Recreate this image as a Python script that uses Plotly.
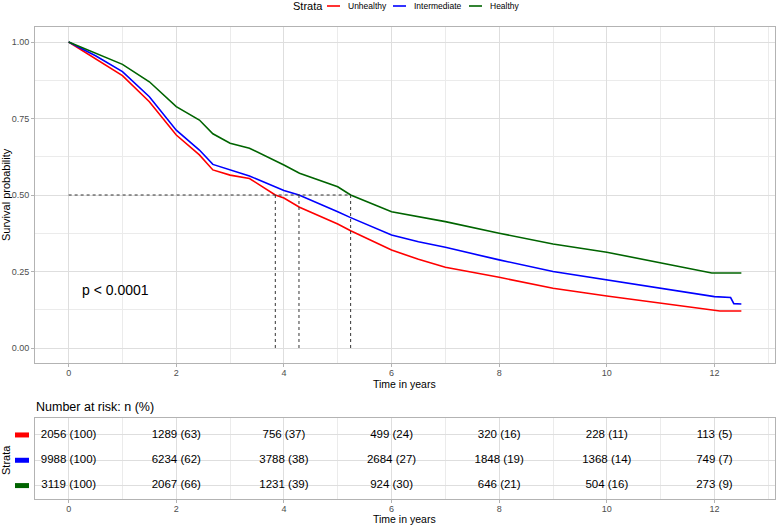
import plotly.graph_objects as go

# ---------------- data ----------------
strata = ["Unhealthy", "Intermediate", "Healthy"]
colors = ["#FF0000", "#0000FF", "#006400"]

unhealthy_t = [0, 0.5, 1, 1.5, 2, 2.43, 2.68, 3, 3.36, 3.84, 4, 4.29, 5, 5.24, 6, 6.5, 7, 8, 9, 10, 11, 12, 12.1, 12.5]
unhealthy_s = [1, 0.944, 0.89, 0.805, 0.696, 0.631, 0.582, 0.565, 0.554, 0.5, 0.49, 0.46, 0.405, 0.383, 0.32, 0.29, 0.264, 0.231, 0.195, 0.17, 0.146, 0.122, 0.121, 0.121]

intermediate_t = [0, 0.5, 1, 1.5, 2, 2.43, 2.68, 3, 3.36, 4, 4.28, 5, 5.24, 6, 6.5, 7, 8, 9, 10, 11, 12, 12.3, 12.36, 12.5]
intermediate_s = [1, 0.955, 0.903, 0.821, 0.712, 0.647, 0.60, 0.582, 0.562, 0.515, 0.5, 0.445, 0.426, 0.369, 0.347, 0.329, 0.288, 0.25, 0.222, 0.195, 0.168, 0.165, 0.145, 0.144]

healthy_t = [0, 0.5, 1, 1.5, 2, 2.43, 2.68, 3, 3.36, 4, 4.29, 5, 5.24, 6, 6.5, 7, 8, 9, 10, 11, 11.95, 12.5]
healthy_s = [1, 0.963, 0.927, 0.87, 0.789, 0.745, 0.70, 0.669, 0.653, 0.598, 0.571, 0.527, 0.5, 0.445, 0.429, 0.413, 0.375, 0.34, 0.313, 0.279, 0.245, 0.245]

medians = [3.84, 4.28, 5.24]
pval_text = "p < 0.0001"

risk_times = [0, 2, 4, 6, 8, 10, 12]
unhealthy_n = [2056, 1289, 756, 499, 320, 228, 113]
unhealthy_pct = [100, 63, 37, 24, 16, 11, 5]
intermediate_n = [9988, 6234, 3788, 2684, 1848, 1368, 749]
intermediate_pct = [100, 62, 38, 27, 19, 14, 7]
healthy_n = [3119, 2067, 1231, 924, 646, 504, 273]
healthy_pct = [100, 66, 39, 30, 21, 16, 9]

x_ticks = [0, 2, 4, 6, 8, 10, 12]
y_ticks = [0, 0.25, 0.5, 0.75, 1.0]

# ---------------- figure ----------------
W, H = 777, 528
FONT = "Liberation Sans, Arial, sans-serif"
GRID = "#dedede"
MINOR = "#ebebeb"
BORDER = "#b3b3b3"
TICKC = "#4d4d4d"

def px_x(p):
    return p / W

def px_y(p):
    return 1 - p / H

fig = go.Figure()

curves = [(unhealthy_t, unhealthy_s), (intermediate_t, intermediate_s), (healthy_t, healthy_s)]
for (t, s), name, c in zip(curves, strata, colors):
    fig.add_trace(go.Scatter(x=t, y=s, mode="lines", name=name,
                             line=dict(color=c, width=1.6), showlegend=False,
                             xaxis="x", yaxis="y"))

# median lines
fig.add_trace(go.Scatter(x=[0, max(medians)], y=[0.5, 0.5], mode="lines",
                         line=dict(color="#333333", width=1, dash="3px,3px"),
                         showlegend=False, xaxis="x", yaxis="y"))
for m in medians:
    fig.add_trace(go.Scatter(x=[m, m], y=[0, 0.5], mode="lines",
                             line=dict(color="#333333", width=1, dash="3px,3px"),
                             showlegend=False, xaxis="x", yaxis="y"))

# risk table
risk_rows = [(unhealthy_n, unhealthy_pct, 3), (intermediate_n, intermediate_pct, 2), (healthy_n, healthy_pct, 1)]
for n, p, row in risk_rows:
    fig.add_trace(go.Scatter(x=risk_times, y=[row] * len(risk_times), mode="text",
                             text=[f"{a} ({b})" for a, b in zip(n, p)],
                             textposition="middle center",
                             textfont=dict(family=FONT, size=11.5, color="black"),
                             showlegend=False, xaxis="x2", yaxis="y2"))

xdom = [px_x(35), px_x(775)]
xrange = [-0.625, 13.125]

common_x = dict(range=xrange, tickvals=x_ticks, showgrid=True, gridcolor=GRID, gridwidth=0.8,
                minor=dict(dtick=1, tick0=0, showgrid=True, gridcolor=MINOR, gridwidth=0.6),
                zeroline=False, showline=True, mirror=True, linecolor=BORDER, linewidth=1,
                ticks="outside", ticklen=3, tickcolor=BORDER, automargin=False,
                ticklabelstandoff=-2,
                tickfont=dict(family=FONT, size=9, color=TICKC), domain=xdom)

fig.update_layout(
    width=W, height=H, margin=dict(l=0, r=0, t=0, b=0, autoexpand=False),
    paper_bgcolor="white", plot_bgcolor="white",
    font=dict(family=FONT),
    xaxis=dict(**common_x, anchor="y"),
    yaxis=dict(range=[-0.05, 1.05], tickvals=y_ticks, tickformat=".2f",
               domain=[px_y(363.3), px_y(26.7)], anchor="x", automargin=False,
               showgrid=True, gridcolor=GRID, gridwidth=0.8,
               minor=dict(dtick=0.125, tick0=0, showgrid=True, gridcolor=MINOR, gridwidth=0.6),
               zeroline=False, showline=True, mirror=True, linecolor=BORDER, linewidth=1,
               ticks="outside", ticklen=3, tickcolor=BORDER,
               tickfont=dict(family=FONT, size=9, color=TICKC)),
    xaxis2=dict(**common_x, anchor="y2"),
    yaxis2=dict(range=[0.47, 3.67], tickvals=[1, 2, 3], showticklabels=False,
                domain=[px_y(499), px_y(418)], anchor="x2", automargin=False,
                showgrid=True, gridcolor=GRID, gridwidth=0.8,
                zeroline=False, showline=True, mirror=True, linecolor=BORDER, linewidth=1,
                ticks=""),
)

def note(text, x, y, size, xanchor="center", angle=0, xref="paper", yref="paper"):
    return dict(text=text, x=x, y=y, xref=xref, yref=yref, xanchor=xanchor, yanchor="middle",
                textangle=angle, showarrow=False, font=dict(family=FONT, size=size, color="black"))

ann = []
ann.append(note("Survival probability", px_x(6), px_y(195), 11, angle=-90))
ann.append(note("Time in years", px_x(405), px_y(384), 10.5))
ann.append(note("Time in years", px_x(405), px_y(519), 10.5))
ann.append(note("Strata", px_x(6), px_y(460), 11, angle=-90))
ann.append(note("Number at risk: n (%)", px_x(34), px_y(407), 12.5, xanchor="left"))
ann.append(note(pval_text, 0.22, 0.19, 14, xanchor="left", xref="x", yref="y"))
# legend
ann.append(note("Strata", px_x(291), px_y(6), 11, xanchor="left"))
leg_line_x = [327, 393, 469]
shapes = []
for name, c, lx in zip(strata, colors, leg_line_x):
    shapes.append(dict(type="line", xref="paper", yref="paper", x0=px_x(lx), x1=px_x(lx + 13),
                       y0=px_y(6), y1=px_y(6), line=dict(color=c, width=1.6)))
    ann.append(note(name, px_x(lx + 19), px_y(6), 8.5, xanchor="left"))
# risk table colour keys
for c, row in zip(colors, [3, 2, 1]):
    shapes.append(dict(type="line", xref="paper", yref="y2", x0=px_x(15), x1=px_x(29),
                       y0=row, y1=row, line=dict(color=c, width=5)))

fig.update_layout(annotations=ann, shapes=shapes)
fig.write_html("out.html", config={"displayModeBar": False},
               post_script="document.body.style.margin='0px';")
